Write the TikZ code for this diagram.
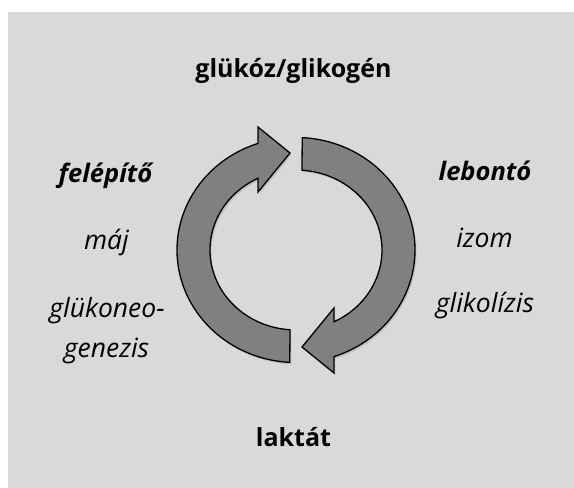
\documentclass[tikz,border=0pt]{standalone}
\usepackage{fontspec}
\setmainfont{Open Sans}
\usetikzlibrary{shadows}
\definecolor{slidegray}{RGB}{217,217,217}
\definecolor{ringgray}{RGB}{128,128,128}

\begin{document}
\begin{tikzpicture}[x=1pt,y=1pt,
    ring/.style={draw=black,line width=1.3pt,fill=ringgray,line join=miter,
      drop shadow={opacity=0.3,shadow xshift=1.5pt,shadow yshift=-2pt}},
    head/.style={font=\fontsize{25}{30}\selectfont\bfseries,anchor=base},
    side/.style={font=\fontsize{26.5}{32}\selectfont\itshape,anchor=base},
    sidehead/.style={font=\fontsize{25.5}{32}\selectfont\bfseries\itshape,anchor=base}]
  %Background
  \useasboundingbox (0,0) rectangle (574,488);
  \fill[slidegray] (8,0) rectangle (574,476);
  %Cycle arrows
  \begin{scope}[shift={(296,238)}]
    \draw[ring] (267:119pt and 112.5pt) arc[start angle=267,end angle=108.6,x radius=119pt,y radius=112.5pt]
      -- (-38,123) -- (-6,97) -- (-38,58)
      -- (116.2:86pt and 80pt) arc[start angle=116.2,end angle=266,x radius=86pt,y radius=80pt] -- cycle;
    \draw[ring] (87:119pt and 112.5pt) arc[start angle=87,end angle=-71.4,x radius=119pt,y radius=112.5pt]
      -- (38,-123) -- (6,-97) -- (38,-58)
      -- (-63.8:86pt and 80pt) arc[start angle=-63.8,end angle=86,x radius=86pt,y radius=80pt] -- cycle;
  \end{scope}
  %Top and bottom
  \node[head] (glucose) at (293.5,410) {glükóz/glikogén};
  \node[head] (lactate) at (293.5,41) {laktát};
  %Left side
  \node[sidehead] (anabolic) at (105.5,305) {felépítő};
  \node[side] (liver) at (106.5,238) {máj};
  \node[side] (gng1) at (107,170) {glükoneo-};
  \node[side] (gng2) at (106.5,130) {genezis};
  %Right side
  \node[sidehead] (catabolic) at (485,307) {lebontó};
  \node[side] (muscle) at (484.5,240) {izom};
  \node[side] (glycolysis) at (485,175) {glikolízis};
\end{tikzpicture}
\end{document}
